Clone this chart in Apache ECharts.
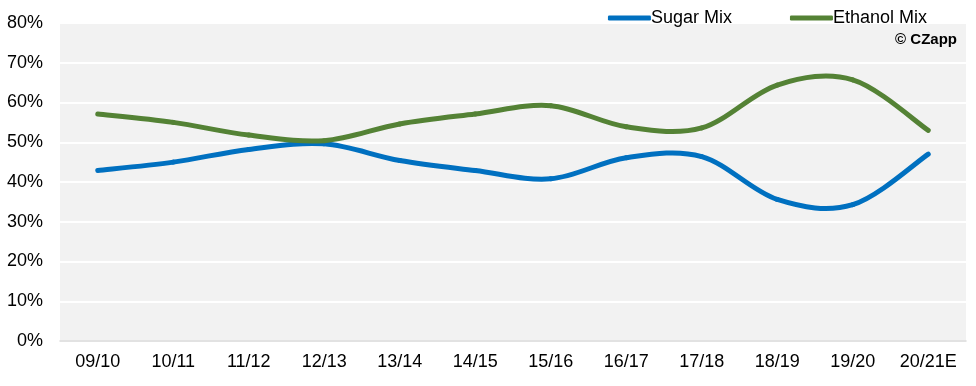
<!DOCTYPE html>
<html>
<head>
<meta charset="utf-8">
<script src="https://cdn.jsdelivr.net/npm/echarts@6/dist/echarts.min.js"></script>
<style>
html,body{margin:0;padding:0;background:#fff;}
#c{width:976px;height:386px;}
</style>
</head>
<body>
<div id="c"></div>
<script>
const categories = ['09/10','10/11','11/12','12/13','13/14','14/15','15/16','16/17','17/18','18/19','19/20','20/21E'];
const sugarMix = [42.9, 45.0, 48.2, 49.6, 45.4, 42.9, 40.8, 46.1, 46.4, 35.6, 34.3, 47.0];
const ethanolMix = [57.1, 55.0, 51.8, 50.4, 54.6, 57.1, 59.2, 53.9, 53.6, 64.4, 65.7, 53.0];
const seriesNames = ['Sugar Mix', 'Ethanol Mix'];
const seriesColors = ['#0070c0', '#548235'];
const yTicks = { min: 0, max: 80, interval: 10 };

const font = 'Arial, "Liberation Sans", sans-serif';

// Excel-style smoothed segment: Bezier with Catmull-Rom control points,
// positioned through the chart's own coordinate system (api.coord).
function smoothSegment(values, color) {
  return function (params, api) {
    const i = params.dataIndex;
    if (i >= values.length - 1) return null;
    const P = k => {
      const kk = Math.max(0, Math.min(values.length - 1, k));
      return api.coord([kk, values[kk]]);
    };
    const p0 = P(i - 1), p1 = P(i), p2 = P(i + 1), p3 = P(i + 2);
    const c1 = [p1[0] + (p2[0] - p0[0]) / 6, p1[1] + (p2[1] - p0[1]) / 6];
    const c2 = [p2[0] - (p3[0] - p1[0]) / 6, p2[1] - (p3[1] - p1[1]) / 6];
    return {
      type: 'bezierCurve',
      shape: { x1: p1[0], y1: p1[1], cpx1: c1[0], cpy1: c1[1], cpx2: c2[0], cpy2: c2[1], x2: p2[0], y2: p2[1] },
      style: { stroke: color, lineWidth: 5, fill: null, lineCap: 'round' }
    };
  };
}

const chart = echarts.init(document.getElementById('c'), null, { renderer: 'canvas' });
chart.setOption({
  animation: false,
  backgroundColor: '#ffffff',
  grid: { left: 60, right: 10, top: 23, bottom: 45, show: true, backgroundColor: '#f2f2f2', borderWidth: 0, containLabel: false },
  legend: {
    data: seriesNames.map((n, k) => ({ name: n, icon: 'roundRect', itemStyle: { color: seriesColors[k] } })),
    top: 4,
    right: 44,
    itemWidth: 43,
    itemHeight: 5,
    itemGap: 58,
    textStyle: { fontFamily: font, fontSize: 18, color: '#000', padding: [0, 0, 0, -5] }
  },
  graphic: [{
    type: 'text', right: 19, top: 32,
    style: { text: '© CZapp', font: 'bold 15px ' + font, fill: '#000' }
  }],
  xAxis: {
    type: 'category',
    data: categories,
    boundaryGap: true,
    axisLine: { show: true, lineStyle: { color: '#d9d9d9', width: 1.5 } },
    axisTick: { show: false },
    axisLabel: { fontFamily: font, fontSize: 18, color: '#000', margin: 12, interval: 0 },
    splitLine: { show: false }
  },
  yAxis: {
    type: 'value',
    min: yTicks.min, max: yTicks.max, interval: yTicks.interval,
    axisLine: { show: false },
    axisTick: { show: false },
    axisLabel: { fontFamily: font, fontSize: 18, color: '#000', margin: 17, formatter: v => v + '%' },
    splitLine: { show: true, lineStyle: { color: '#ffffff', width: 2 } }
  },
  series: [
    { name: seriesNames[0], type: 'custom', coordinateSystem: 'cartesian2d',
      data: sugarMix.map((v, k) => [k, v]), encode: { x: 0, y: 1 },
      itemStyle: { color: seriesColors[0] }, renderItem: smoothSegment(sugarMix, seriesColors[0]) },
    { name: seriesNames[1], type: 'custom', coordinateSystem: 'cartesian2d',
      data: ethanolMix.map((v, k) => [k, v]), encode: { x: 0, y: 1 },
      itemStyle: { color: seriesColors[1] }, renderItem: smoothSegment(ethanolMix, seriesColors[1]) }
  ]
});
</script>
</body>
</html>
